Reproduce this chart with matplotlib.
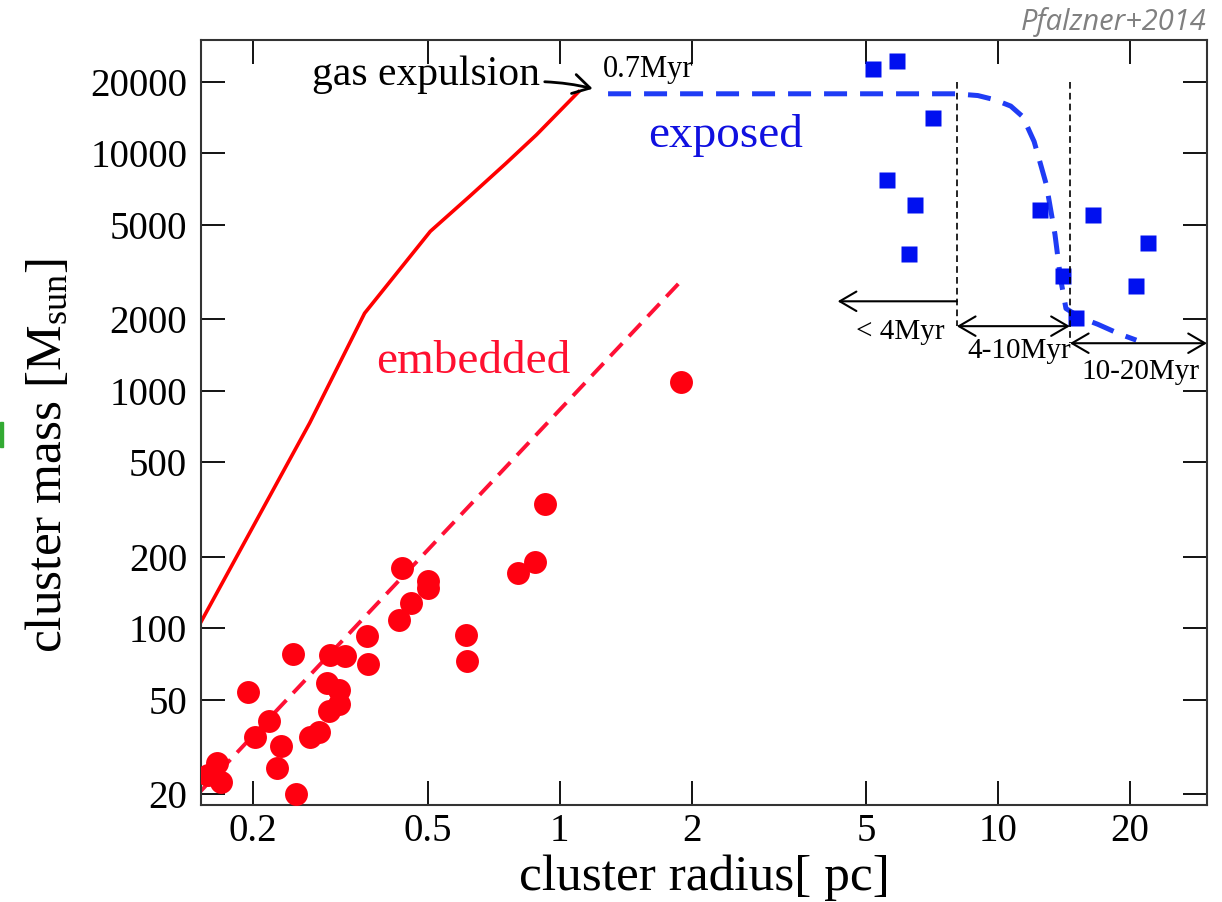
import matplotlib
matplotlib.use("Agg")
import matplotlib.pyplot as plt
from matplotlib.patches import Rectangle
from matplotlib.ticker import NullLocator

plt.rcParams['font.family'] = ['Liberation Serif', 'DejaVu Serif']
plt.rcParams['mathtext.fontset'] = 'custom'
plt.rcParams['mathtext.rm'] = 'Liberation Serif'
plt.rcParams['mathtext.it'] = 'Liberation Serif:italic'

# ---------- data ----------
# embedded clusters (red dots): radius [pc], mass [Msun]
emb_r = [0.927, 0.877, 0.802, 0.613, 0.616, 0.438, 0.502, 0.502, 0.457, 0.431,
         0.364, 0.366, 0.324, 0.300, 0.295, 0.314, 0.314, 0.298, 0.282, 0.270,
         0.247, 0.195, 0.217, 0.202, 0.231, 0.226, 0.251, 0.165, 0.169, 0.158,
         1.89]
emb_m = [332, 190, 170, 94, 72.4, 180, 158, 148, 128, 108,
         93, 71, 76, 77, 59, 54.7, 47.8, 44.7, 36.5, 34.7,
         78.2, 53.7, 40.5, 34.7, 31.8, 25.7, 20, 27.1, 22.5, 24,
         1090]

# exposed clusters (blue squares)
exp_r = [5.18, 5.88, 7.1, 5.58, 6.46, 6.26, 12.5, 16.5, 22.0, 14.1, 20.7, 15.1]
exp_m = [22700, 24500, 14100, 7740, 6080, 3750, 5790, 5520, 4170, 3030, 2760, 2020]

# solid red curve (embedded track up to gas expulsion)
track_r = [0.151, 0.269, 0.359, 0.507, 0.623, 0.753, 0.886, 1.105]
track_m = [104, 731, 2120, 4690, 6580, 9040, 11970, 18150]

# dashed red fit line
fit_r = [0.151, 1.90]
fit_m = [20.4, 2920]

# dashed blue curve (exposed track)
blue_r = [1.29, 8.0, 9.0, 9.84, 10.7, 11.4, 12.1, 12.9, 13.5, 13.9, 14.3, 15.4, 16.9, 19.0, 20.7]
blue_m = [17800, 17800, 17500, 16800, 15800, 14250, 11200, 7380, 4550, 2970, 2220, 2035, 1905, 1730, 1633]

# age boundaries
age_r = [8.06, 14.6]
age_top = 20000
age_bot = [1870, 1585]

yticks = [20, 50, 100, 200, 500, 1000, 2000, 5000, 10000, 20000]
ylabels = ['20', '50', '100', '200', '500', '1000', '2000', '5000', '10000', '20000']
xticks = [0.2, 0.5, 1, 2, 5, 10, 20]
xlabels = ['0.2', '0.5', '1', '2', '5', '10', '20']

# ---------- figure ----------
fig = plt.figure(figsize=(12.22, 9.02), dpi=100)
ax = fig.add_axes([0.1645, 0.1075, 0.8232, 0.8482])
ax.set_xscale('log')
ax.set_yscale('log')
ax.set_xlim(0.152, 30)
ax.set_ylim(18, 30000)

ax.plot(track_r, track_m, color='#ff0000', lw=2.6, zorder=2)
ax.plot(fit_r, fit_m, color='#ff1035', lw=2.8, dashes=(4.5, 2.5), zorder=2)
ax.plot(blue_r, blue_m, color='#1f3cf5', lw=3.6, dashes=(4.6, 2.6), zorder=2)

ax.plot(emb_r, emb_m, 'o', color='#ff0010', markersize=16.5, mec='none', zorder=3)
ax.plot(exp_r, exp_m, 's', color='#0010f0', markersize=12, mec='none', zorder=3)

for r, yb in zip(age_r, age_bot):
    ax.plot([r, r], [age_top, yb], color='black', lw=1.2, dashes=(4, 2.5), zorder=4)

arr = dict(color='black', lw=1.5, mutation_scale=20, shrinkA=0, shrinkB=0)
ax.annotate('', xy=(4.31, 2380), xytext=(8.06, 2380),
            arrowprops=dict(arrowstyle='->,head_length=0.6,head_width=0.35', **arr))
ax.annotate('', xy=(14.6, 1870), xytext=(8.06, 1870),
            arrowprops=dict(arrowstyle='<->,head_length=0.6,head_width=0.35', **arr))
ax.annotate('', xy=(30, 1585), xytext=(14.6, 1585),
            arrowprops=dict(arrowstyle='<->,head_length=0.6,head_width=0.35', **arr))

ax.text(4.74, 1648, '< 4Myr', fontsize=21, va='baseline')
ax.text(8.50, 1370, '4-10Myr', fontsize=21, va='baseline')
ax.text(15.5, 1120, '10-20Myr', fontsize=21, va='baseline')

ax.annotate('', xy=(1.19, 18700), xytext=(0.925, 20000),
            arrowprops=dict(arrowstyle='->,head_length=0.6,head_width=0.35', color='black',
                            lw=2, mutation_scale=20, shrinkA=0, shrinkB=0,
                            connectionstyle='arc3,rad=-0.05'))
ax.text(0.90, 19400, 'gas expulsion', fontsize=30, ha='right', va='baseline')
ax.text(1.254, 21000, '0.7Myr', fontsize=22, va='baseline')

ax.text(1.59, 10660, 'exposed', fontsize=34, color='#1010e0', va='baseline')
ax.text(0.382, 1186, 'embedded', fontsize=34, color='#ff1030', va='baseline')

ax.set_xticks(xticks, labels=xlabels)
ax.set_yticks(yticks, labels=ylabels)
ax.xaxis.set_minor_locator(NullLocator())
ax.yaxis.set_minor_locator(NullLocator())
ax.tick_params(which='major', direction='in', length=17, width=1.3,
               top=True, right=True, labelsize=28)
ax.tick_params(axis='x', pad=6)
ax.tick_params(axis='y', pad=10)
for s in ax.spines.values():
    s.set_linewidth(1.5)
    s.set_color('#333333')

ax.set_xlabel('cluster radius[ pc]', fontsize=37)
ax.xaxis.set_label_coords(0.5, -0.065)
ax.set_ylabel('cluster mass [M$_{\\rm sun}$]', fontsize=37)
ax.yaxis.set_label_coords(-0.128, 0.457)

fig.text(0.9877, 0.967, 'Pfalzner+2014', fontsize=21, style='italic',
         family='Open Sans', color='#808080', ha='right', va='baseline')
fig.add_artist(Rectangle((0, (902 - 447) / 902), 3 / 1222, 25 / 902,
                         color='#33aa33', transform=fig.transFigure))

fig.savefig('out.png', dpi=100)
